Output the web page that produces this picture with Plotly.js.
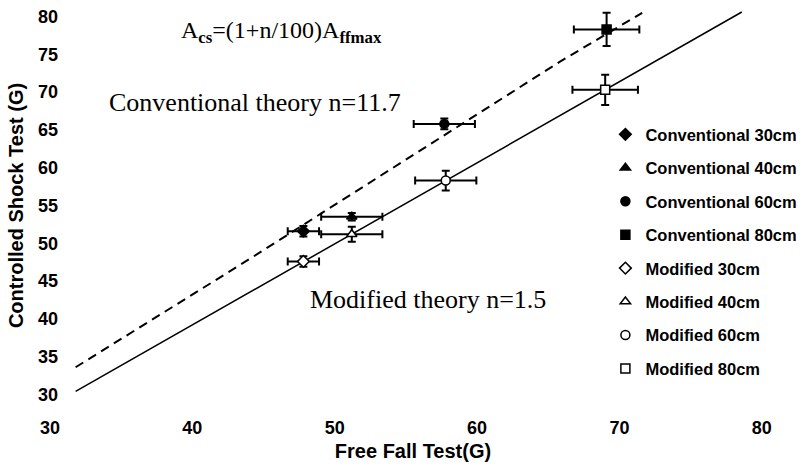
<!DOCTYPE html>
<html>
<head>
<meta charset="utf-8">
<script src="https://cdn.plot.ly/plotly-3.0.1.min.js"></script>
<style>html,body{margin:0;padding:0;background:#fff;}#chart{width:804px;height:467px;}</style>
</head>
<body>
<div id="chart"></div>
<script>
// Series (one point per legend entry)
const seriesNames = ['Conventional 30cm','Conventional 40cm','Conventional 60cm','Conventional 80cm',
                     'Modified 30cm','Modified 40cm','Modified 60cm','Modified 80cm'];
const freeFallX   = [47.8, 51.2, 57.7, 69.1, 47.8, 51.2, 57.8, 69.0];
const shockY      = [51.6, 53.5, 65.8, 78.3, 47.6, 51.2, 58.3, 70.3];
const errX        = [1.1, 2.15, 2.15, 2.3, 1.1, 2.15, 2.15, 2.3];
const errY        = [0.7, 0.5, 0.7, 2.2, 0.7, 1.0, 1.3, 2.0];
const symbols     = ['diamond','triangle-up','circle','square','diamond','triangle-up','circle','square'];
const filled      = [true,true,true,true,false,false,false,false];

// Theory lines
const convLineX = [31.8, 44.0, 65.8, 71.6];
const convLineY = [33.6, 47.9, 74.0, 80.5];
const modLineX  = [31.8, 78.6];
const modLineY  = [30.4, 80.6];

const xTicks = [30, 40, 50, 60, 70, 80];
const yTicks = [30, 35, 40, 45, 50, 55, 60, 65, 70, 75, 80];

const traces = [];
traces.push({x: convLineX, y: convLineY, mode: 'lines', showlegend: false, hoverinfo: 'skip',
  line: {color: '#000', width: 2, dash: '9px,6px'}});
traces.push({x: modLineX, y: modLineY, mode: 'lines', showlegend: false, hoverinfo: 'skip',
  line: {color: '#000', width: 1.5}});

seriesNames.forEach((n, i) => {
  traces.push({
    x: [freeFallX[i]], y: [shockY[i]], name: n, mode: 'markers', legendgroup: 'g' + i,
    marker: {symbol: symbols[i], size: 9, color: filled[i] ? '#000' : '#fff', line: {color: '#000', width: 1.5}},
    error_x: {type: 'constant', value: errX[i], color: '#000', thickness: 2, width: 4},
    error_y: {type: 'constant', value: errY[i], color: '#000', thickness: 2, width: 4}
  });
});

const sans = 'Liberation Sans, Arial, sans-serif';
const tickFont = {family: sans, size: 18, color: '#000', weight: 700};
const serif = 'Liberation Serif, Times New Roman, serif';

const layout = {
  width: 804, height: 467,
  margin: {l: 50, r: 28, t: 9, b: 65, autoexpand: false},
  paper_bgcolor: '#fff', plot_bgcolor: '#fff',
  showlegend: true,
  xaxis: {range: [30, 81], tickvals: xTicks, ticktext: xTicks.map(String), showgrid: false, zeroline: false,
    showline: false, ticks: 'outside', ticklen: 9, tickcolor: 'rgba(0,0,0,0)', tickfont: tickFont, automargin: false,
    title: {text: 'Free Fall Test(G)', font: {family: sans, size: 20, color: '#000', weight: 700}, standoff: 7}},
  yaxis: {range: [29, 81], tickvals: yTicks, ticktext: yTicks.map(String), showgrid: false, zeroline: false,
    showline: false, ticks: '', tickfont: tickFont, ticklabelstandoff: -9, automargin: false,
    title: {text: 'Controlled Shock Test (G)', font: {family: sans, size: 20, color: '#000', weight: 700}, standoff: 8}},
  legend: {x: 0.765, y: 0.725, xanchor: 'left', yanchor: 'top', bgcolor: 'rgba(0,0,0,0)',
    traceorder: 'grouped', tracegroupgap: 9, itemwidth: 30,
    font: {family: sans, size: 16.5, color: '#000', weight: 700}},
  annotations: [
    {x: 39.06, y: 77.9, xref: 'x', yref: 'y', xanchor: 'left', yanchor: 'middle', showarrow: false,
     text: 'A<sub><b>cs</b></sub>=(1+n/100)A<sub><b>ffmax</b></sub>', font: {family: serif, size: 24, color: '#000'}},
    {x: 34.0, y: 68.6, xref: 'x', yref: 'y', xanchor: 'left', yanchor: 'middle', showarrow: false,
     text: 'Conventional theory n=11.7', font: {family: serif, size: 26, color: '#000'}},
    {x: 48.1, y: 42.6, xref: 'x', yref: 'y', xanchor: 'left', yanchor: 'middle', showarrow: false,
     text: 'Modified theory n=1.5', font: {family: serif, size: 26, color: '#000'}}
  ]
};

Plotly.newPlot('chart', traces, layout, {displayModeBar: false, staticPlot: true});
</script>
</body>
</html>
